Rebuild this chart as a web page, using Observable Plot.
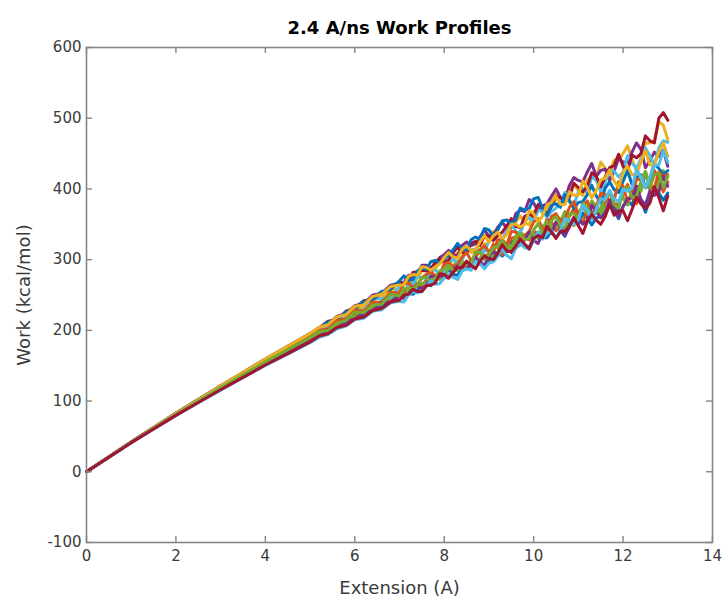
<!DOCTYPE html>
<html>
<head>
<meta charset="utf-8">
<script src="https://cdn.jsdelivr.net/npm/d3@7"></script>
<script src="https://cdn.jsdelivr.net/npm/@observablehq/plot@0.6"></script>
<style>
  html, body { margin: 0; padding: 0; background: #fff; }
  #chart svg { display: block; }
</style>
</head>
<body>
<div id="chart"></div>
<script>
// Text
const title = "2.4 A/ns Work Profiles";
const xLabel = "Extension (A)";
const yLabel = "Work (kcal/mol)";

// Axis ticks
const xTicks = [0, 2, 4, 6, 8, 10, 12, 14];
const yTicks = [-100, 0, 100, 200, 300, 400, 500, 600];

// Sampled extension values (A) shared by every pulling run
const extension = [0, 0.5, 1, 1.5, 2, 2.5, 3, 3.5, 4, 4.5, 5,
  5.2, 5.4, 5.6, 5.8, 6, 6.2, 6.4, 6.6, 6.8,
  7, 7.1, 7.2, 7.3, 7.4, 7.5, 7.6, 7.7, 7.8, 7.9,
  8, 8.1, 8.2, 8.3, 8.4, 8.5, 8.6, 8.7, 8.8, 8.9,
  9, 9.1, 9.2, 9.3, 9.4, 9.5, 9.6, 9.7, 9.8, 9.9,
  10, 10.1, 10.2, 10.3, 10.4, 10.5, 10.6, 10.7, 10.8, 10.9,
  11, 11.1, 11.2, 11.3, 11.4, 11.5, 11.6, 11.7, 11.8, 11.9,
  12, 12.1, 12.2, 12.3, 12.4, 12.5, 12.6, 12.7, 12.8, 12.9, 13];

// Accumulated work (kcal/mol) for each run
const run01 = [0,20.7,41.4,60.8,80,98.5,117,134,152,168.5,185,193,197,205,209,218,220,232,234,239,
  249,257,252,251,256,266,267,263,270,277,279,286,279,278,289,288,291,302,299,290,299,310,310,305,312,327,321,323,321,317,
  332,339,331,331,341,353,340,333,351,357,350,366,359,349,359,361,368,385,369,358,376,383,377,397,385,367,385,401,394,384,394];
const run02 = [0,21,41.8,61.5,81,100,118.5,137,155,172,189,197,201,213,213,223,224,237,238,248,
  249,254,263,268,263,262,272,277,274,276,287,294,287,293,295,288,295,308,310,305,308,322,317,307,317,330,332,340,331,328,
  340,337,338,358,353,341,351,361,361,372,359,352,372,381,372,369,381,396,379,378,393,406,391,379,402,406,400,426,413,396,410];
const run03 = [0,21,42.2,62.3,82.5,101.5,121,139.5,158.5,176,194,202,205,216,220,232,232,244,247,259,
  257,265,270,267,274,284,286,284,286,299,298,292,300,310,312,317,310,311,324,322,324,340,338,329,338,350,353,362,352,349,
  368,374,366,369,383,394,380,383,398,408,397,391,412,419,416,438,429,422,441,441,450,461,442,425,444,465,465,469,495,490,470];
const run04 = [0,21,42.3,62.5,82.8,102,121.5,140,159,177,195,204,208,220,223,235,238,250,252,264,
  267,268,278,277,279,292,292,288,294,303,307,313,307,306,320,325,320,322,332,342,333,335,346,353,344,345,365,370,368,385,
  380,369,376,379,390,400,388,384,405,416,412,410,424,436,418,426,428,412,425,443,438,438,452,465,456,430,440,452,446,455,432];
const run05 = [0,20.9,41.7,61.5,81.2,100,119,137,155.5,172.5,189,195,203,206,217,219,228,231,242,243,
  253,251,254,267,267,265,268,278,278,272,279,287,291,298,289,288,300,298,301,315,312,303,311,323,323,318,324,339,334,336,
  334,330,346,354,346,346,355,368,355,348,367,374,366,383,376,365,375,378,388,404,387,377,397,404,397,420,410,391,410,426,417];
const run06 = [0,21,42,62,82,101,120,138.5,157,174.5,192,201,203,216,218,229,228,244,245,247,
  262,268,262,265,277,274,274,285,286,278,284,297,301,295,299,315,314,315,312,311,326,332,326,330,341,351,340,337,354,360,
  354,370,368,360,368,373,382,395,381,377,396,401,395,417,412,396,409,427,425,417,424,447,436,430,441,458,447,434,458,468,466];
const run07 = [0,21.1,42.3,62.6,83,102.3,121.8,140.5,159.5,177.5,195.5,203,213,215,227,231,242,243,254,258,
  269,265,269,282,283,285,284,285,297,301,296,300,310,318,310,309,323,326,320,334,333,327,334,339,348,358,347,345,361,365,
  361,378,375,363,375,389,388,382,388,408,402,396,403,423,418,403,417,430,433,449,432,426,448,444,450,475,468,465,500,508,497];
const run08 = [0,21,42.2,62.4,82.6,101.8,121.2,140,158.6,176.5,194.5,202,212,214,226,230,241,244,255,258,
  270,277,271,272,284,288,286,297,299,295,301,306,314,323,315,314,328,332,329,344,342,333,342,355,356,351,356,373,370,372,
  386,388,373,363,377,379,374,392,384,372,381,382,392,405,390,380,401,410,399,395,411,426,406,417,420,402,416,436,429,420,426];
const run09 = [0,21,41.9,61.8,81.7,100.6,119.5,138,156,173.5,190.8,200,202,214,216,229,227,240,239,254,
  253,266,267,261,265,274,279,283,277,279,294,296,290,293,304,310,299,303,314,320,311,311,328,328,321,340,339,329,334,340,
  353,358,343,340,361,365,355,357,374,382,364,376,383,365,374,394,392,382,384,410,404,382,394,413,414,424,405,401,424,418,420];
const run10 = [0,21.1,42.2,62.5,82.8,101.9,121.5,140.4,159.4,177.5,195.4,204,208,219,222,234,236,248,251,262,
  264,264,276,279,278,290,289,285,290,294,303,310,304,302,315,319,313,314,325,334,325,334,339,329,336,350,350,346,350,369,
  365,353,362,378,381,389,378,378,396,391,391,411,402,387,398,413,415,427,411,402,424,432,420,420,438,454,434,434,452,465,446];
const run11 = [0,20.8,41.5,61,80.5,99,117.5,135.5,153,170,186.5,191,201,203,213,216,225,228,239,240,
  250,245,251,260,262,259,263,276,276,277,275,274,286,291,285,287,296,304,295,292,306,311,306,320,317,310,317,321,328,339,
  327,323,338,342,337,353,348,334,346,360,358,350,355,377,368,359,365,384,377,360,375,386,387,404,385,377,397,391,396,418,404];
const run12 = [0,20.9,41.8,61.6,81.4,100.2,119,137.2,155.4,172.7,189.5,198,200,210,214,226,225,236,237,251,
  249,259,260,259,263,275,275,269,274,284,287,292,285,285,297,294,295,311,310,300,307,317,319,327,317,315,333,337,328,330,
  342,351,338,341,355,361,348,344,365,365,358,380,374,359,368,373,387,397,378,372,397,403,388,389,411,425,402,420,422,402,418];
const run13 = [0,20.7,41.2,60.4,79.6,97.6,115.5,133,150.5,166.5,182.5,190,194,202,206,215,217,227,229,239,
  241,240,250,255,253,255,262,270,265,266,274,280,275,272,284,287,285,298,294,287,295,297,305,315,306,301,316,323,317,315,
  327,339,329,337,341,331,342,358,355,350,356,377,370,356,371,386,385,398,386,382,400,397,401,427,417,401,417,433,434,454,438];
const run14 = [0,20.6,41.2,60.5,79.8,98,116,133.5,151,167,183.5,192,195,204,207,216,219,228,231,240,
  243,250,251,258,255,255,263,264,267,280,279,274,282,289,289,298,292,287,298,305,301,300,309,321,312,311,319,329,322,315,
  330,334,331,347,339,330,340,340,347,359,348,337,354,364,356,350,361,378,363,369,369,355,371,388,379,372,380,403,388,369,390];

// Line colours, cycling through the default seven-colour order
const runColors = ["#0072BD", "#D95319", "#EDB120", "#7E2F8E", "#77AC30", "#4DBEEE", "#A2142F",
                   "#0072BD", "#D95319", "#EDB120", "#7E2F8E", "#77AC30", "#4DBEEE", "#A2142F"];

const runs = [run01, run02, run03, run04, run05, run06, run07,
              run08, run09, run10, run11, run12, run13, run14];
const runNames = runs.map((_, i) => `run ${i + 1}`);

// Long-format table: one row per sample per run
const rows = runs.flatMap((values, r) =>
  values.map((w, i) => ({run: runNames[r], extension: extension[i], work: w})));

const axisGray = "#858585";
const frameW = 726 - 86 - 14;
const frameH = 602 - 47 - 60;
const tickLen = 6;

const chart = Plot.plot({
  width: 726,
  height: 602,
  marginLeft: 86,
  marginRight: 14,
  marginTop: 47,
  marginBottom: 60,
  style: {fontFamily: "'DejaVu Sans', sans-serif", fontSize: "15px", color: "#3a3a3a", background: "#fff"},
  x: {domain: [0, 14]},
  y: {domain: [-100, 600]},
  color: {domain: runNames, range: runColors},
  marks: [
    Plot.line(rows, {x: "extension", y: "work", z: "run", stroke: "run", strokeWidth: 3, strokeLinejoin: "round"}),
    Plot.frame({stroke: axisGray, strokeWidth: 1.6}),
    // inward ticks on all four sides of the box
    Plot.tickX(xTicks, {x: d => d, insetTop: frameH - tickLen, stroke: axisGray, strokeWidth: 1.4}),
    Plot.tickX(xTicks, {x: d => d, insetBottom: frameH - tickLen, stroke: axisGray, strokeWidth: 1.4}),
    Plot.tickY(yTicks, {y: d => d, insetRight: frameW - tickLen, stroke: axisGray, strokeWidth: 1.4}),
    Plot.tickY(yTicks, {y: d => d, insetLeft: frameW - tickLen, stroke: axisGray, strokeWidth: 1.4}),
    Plot.axisX({ticks: xTicks, tickSize: 0, tickPadding: 8, label: null, tickFormat: d => String(d)}),
    Plot.axisY({ticks: yTicks, tickSize: 0, tickPadding: 5, label: null, tickFormat: d => String(d)}),
    Plot.text([xLabel], {frameAnchor: "bottom", lineAnchor: "middle", dy: 46, fontSize: 18, fill: "#3a3a3a"}),
    Plot.text([yLabel], {frameAnchor: "left", textAnchor: "middle", lineAnchor: "middle", dx: -62, rotate: -90, fontSize: 18, fill: "#3a3a3a"}),
    Plot.text([title], {frameAnchor: "top", lineAnchor: "middle", dy: -19, fontSize: 18, fontWeight: "bold", fill: "#000"})
  ]
});

document.getElementById("chart").appendChild(chart);
</script>
</body>
</html>
